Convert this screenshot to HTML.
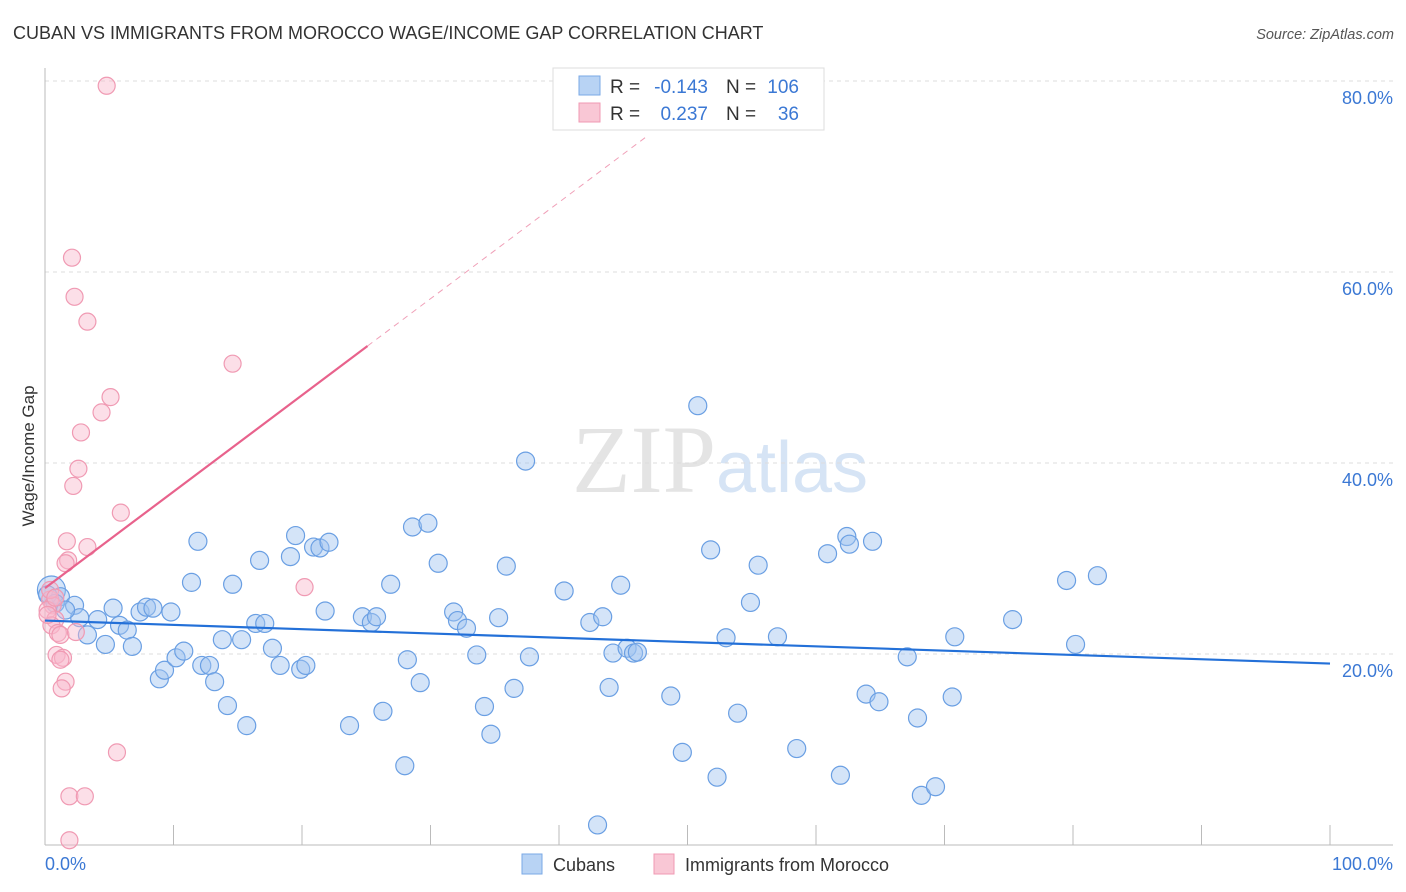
<!DOCTYPE html>
<html><head><meta charset="utf-8"><style>
body{margin:0;background:#fff;font-family:"Liberation Sans",sans-serif;}
svg{display:block}
</style></head><body>
<svg id="chart" width="1406" height="892" viewBox="0 0 1406 892">
<text x="13" y="39" font-size="18" fill="#333">CUBAN VS IMMIGRANTS FROM MOROCCO WAGE/INCOME GAP CORRELATION CHART</text>
<text x="1394" y="39" font-size="14.5" fill="#555" font-style="italic" text-anchor="end">Source: ZipAtlas.com</text>
<text x="720" y="492" font-size="96" text-anchor="middle" font-family="Liberation Serif,serif" fill="#e4e4e4">ZIP<tspan font-family="Liberation Sans,sans-serif" fill="#d6e4f5" font-size="72">atlas</tspan></text>
<text transform="translate(34,456) rotate(-90)" font-size="17" fill="#333" text-anchor="middle">Wage/Income Gap</text>
<g id="grid"></g>
<g id="axes"></g>
<g id="pts"></g>
<g id="lines"></g>
<g>
<rect x="553" y="68" width="271" height="62" fill="#fff" stroke="#ddd"/>
<rect x="579" y="76" width="21" height="19" fill="#b8d3f4" stroke="#7aa8e6"/>
<rect x="579" y="103" width="21" height="19" fill="#f9c7d5" stroke="#f09ab3"/>
<text x="610" y="93" font-size="19" fill="#333">R =</text>
<text x="708" y="93" font-size="19" fill="#3b78d4" text-anchor="end">-0.143</text>
<text x="726" y="93" font-size="19" fill="#333">N =</text>
<text x="799" y="93" font-size="19" fill="#3b78d4" text-anchor="end">106</text>
<text x="610" y="120" font-size="19" fill="#333">R =</text>
<text x="708" y="120" font-size="19" fill="#3b78d4" text-anchor="end">0.237</text>
<text x="726" y="120" font-size="19" fill="#333">N =</text>
<text x="799" y="120" font-size="19" fill="#3b78d4" text-anchor="end">36</text>
</g>
<g>
<rect x="522" y="854" width="20" height="20" fill="#b8d3f4" stroke="#7aa8e6"/>
<text x="553" y="871" font-size="18" fill="#333">Cubans</text>
<rect x="654" y="854" width="20" height="20" fill="#f9c7d5" stroke="#f09ab3"/>
<text x="685" y="871" font-size="18" fill="#333">Immigrants from Morocco</text>
</g>
</svg>
<script>
const yTicks=[20,40,60,80];
const yTickLabels=["20.0%","40.0%","60.0%","80.0%"];
const xTicks=[0,10,20,30,40,50,60,70,80,90,100];
const cubanX=[0.5,1.2,2.3,2.7,3.3,4.1,4.7,5.3,5.8,6.4,6.8,7.4,7.9,8.4,8.9,9.3,9.8,10.2,10.8,11.9,11.4,12.2,12.8,13.2,13.8,14.2,14.6,15.3,15.7,16.4,16.7,17.1,17.7,18.3,19.1,19.5,19.9,20.3,20.9,21.4,21.8,22.1,23.7,24.7,25.4,25.8,26.3,26.9,28.0,28.2,28.6,29.2,29.8,30.6,31.8,32.1,32.8,33.6,34.2,34.7,35.3,35.9,36.5,37.4,37.7,40.4,42.4,43.0,43.4,43.9,44.2,44.8,45.3,45.8,46.1,48.7,49.6,50.8,51.8,52.3,53.0,53.9,54.9,55.5,57.0,58.5,60.9,61.9,62.4,62.6,63.9,64.4,64.9,67.1,67.9,68.2,69.3,70.6,70.8,75.3,79.5,80.2,81.9,0.2,0.8,1.6];
const cubanY=[26.7,26.0,25.1,23.8,22.0,23.6,21.0,24.8,23.0,22.5,20.8,24.4,24.9,24.8,17.4,18.3,24.4,19.6,20.3,31.8,27.5,18.8,18.8,17.1,21.5,14.6,27.3,21.5,12.5,23.2,29.8,23.2,20.6,18.8,30.2,32.4,18.4,18.8,31.2,31.1,24.5,31.7,12.5,23.9,23.3,23.9,14.0,27.3,8.3,19.4,33.3,17.0,33.7,29.5,24.4,23.5,22.7,19.9,14.5,11.6,23.8,29.2,16.4,40.2,19.7,26.6,23.3,2.1,23.9,16.5,20.1,27.2,20.6,20.1,20.2,15.6,9.7,46.0,30.9,7.1,21.7,13.8,25.4,29.3,21.8,10.1,30.5,7.3,32.3,31.5,15.8,31.8,15.0,19.7,13.3,5.2,6.1,15.5,21.8,23.6,27.7,21.0,28.2,26.2,25.3,24.6];
const moroccoX=[4.8,2.1,2.3,3.3,14.6,5.1,4.4,2.8,2.6,2.2,5.9,1.7,3.3,1.8,1.6,20.2,0.4,0.6,0.2,0.8,0.5,1.0,1.2,2.4,0.9,1.4,1.2,1.6,1.3,5.6,1.9,3.1,1.9,0.4,0.8,0.2];
const moroccoY=[79.5,61.5,57.4,54.8,50.4,46.9,45.3,43.2,39.4,37.6,34.8,31.8,31.2,29.8,29.5,27.0,25.7,25.1,24.6,23.6,23.0,22.2,22.0,22.3,19.9,19.6,19.4,17.1,16.4,9.7,5.1,5.1,0.5,26.7,25.9,24.1];
const cubanTrend=[23.5,-0.045];   // intercept, slope
const moroccoTrend=[26.9,1.01];
const NS="http://www.w3.org/2000/svg";
const xs=v=>45+v*12.85, ys=v=>845-v*9.55;
function mk(tag,attrs,parent){const e=document.createElementNS(NS,tag);for(const k in attrs)e.setAttribute(k,attrs[k]);parent.appendChild(e);return e;}
const grid=document.getElementById('grid'),axes=document.getElementById('axes'),pts=document.getElementById('pts'),lines=document.getElementById('lines');
yTicks.forEach((t,i)=>{
 const l=mk('line',{x1:45,x2:1393,y1:ys(t),y2:ys(t),stroke:'#ddd','stroke-dasharray':'4,4'},grid);
 
 
 const tx=mk('text',{x:1393,y:ys(t)+23,'font-size':18,fill:'#3b78d4','text-anchor':'end'},axes);
 tx.textContent=yTickLabels[i];
 
 
});
const xa=mk('line',{x1:45,x2:1393,y1:845,y2:845,stroke:'#bbb'},axes);


const ya=mk('line',{x1:45,x2:45,y1:68,y2:845,stroke:'#bbb'},axes);


xTicks.forEach(t=>{
 const l=mk('line',{x1:xs(t),x2:xs(t),y1:825,y2:845,stroke:'#bbb'},axes);
 
 
});
const x0=mk('text',{x:45,y:870,'font-size':18,fill:'#3b78d4'},axes);x0.textContent='0.0%';


const x1=mk('text',{x:1393,y:870,'font-size':18,fill:'#3b78d4','text-anchor':'end'},axes);x1.textContent='100.0%';


cubanX.forEach((x,i)=>{
 const c=mk('circle',{cx:xs(x),cy:ys(cubanY[i]),r:i==0?14:9,fill:'rgba(160,196,240,0.45)',stroke:'#6a9fe3','stroke-width':1.2},pts);
 
 
});
moroccoX.forEach((x,i)=>{
 const c=mk('circle',{cx:xs(x),cy:ys(moroccoY[i]),r:8.5,fill:'rgba(248,184,204,0.45)',stroke:'#f09ab3','stroke-width':1.2},pts);
 
 
});
const bl=mk('line',{x1:xs(0),y1:ys(cubanTrend[0]),x2:xs(100),y2:ys(cubanTrend[0]+cubanTrend[1]*100),stroke:'#2370d8','stroke-width':2.2},lines);


const pl=mk('line',{x1:xs(0),y1:ys(moroccoTrend[0]),x2:xs(25.1),y2:ys(moroccoTrend[0]+moroccoTrend[1]*25.1),stroke:'#e8628c','stroke-width':2.2},lines);


const pd=mk('line',{x1:xs(25.1),y1:ys(moroccoTrend[0]+moroccoTrend[1]*25.1),x2:xs(47),y2:ys(moroccoTrend[0]+moroccoTrend[1]*47),stroke:'#f0a0b8','stroke-width':1,'stroke-dasharray':'6,5'},lines);


</script>
</body></html>
